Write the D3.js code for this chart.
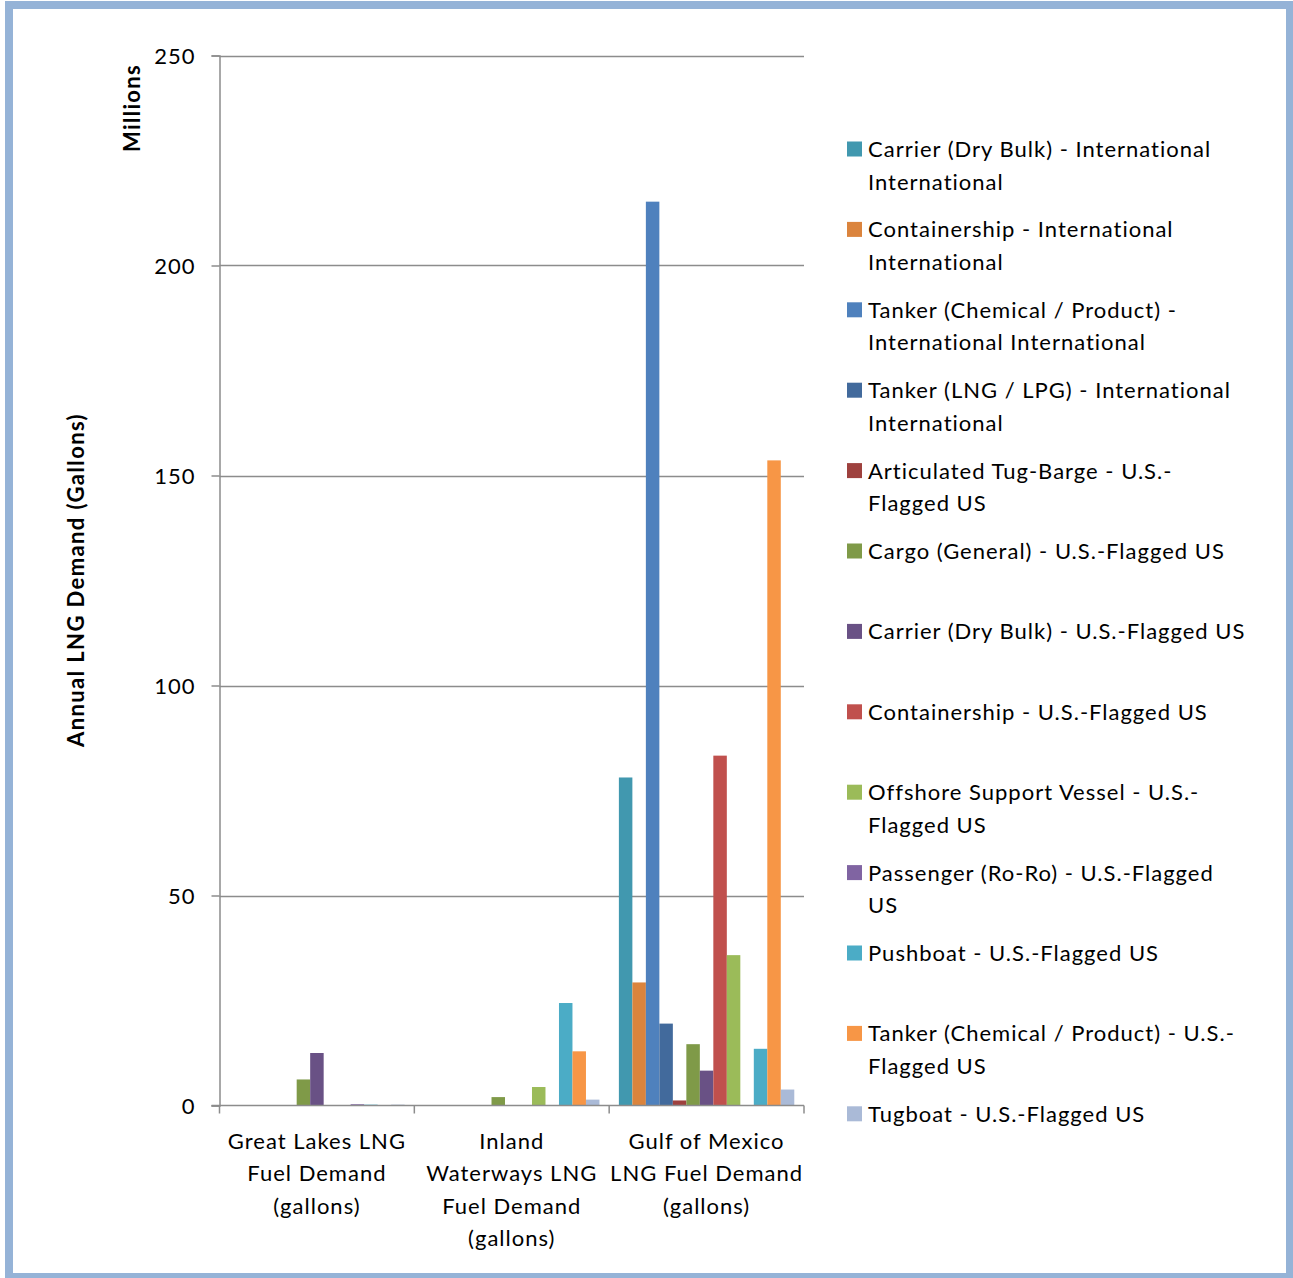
<!DOCTYPE html>
<html>
<head>
<meta charset="utf-8">
<script src="https://cdn.jsdelivr.net/npm/d3@7"></script>
<style>
  body { margin: 0; background: #fff; }
  svg { display: block; font-family: Lato, "Open Sans", sans-serif; letter-spacing: 1px; }
</style>
</head>
<body>
<div id="chart"></div>
<script>
// Chart data (values in millions of gallons)
const categories = [
    ['Great Lakes LNG', 'Fuel Demand', '(gallons)'],
    ['Inland', 'Waterways LNG', 'Fuel Demand', '(gallons)'],
    ['Gulf of Mexico', 'LNG Fuel Demand', '(gallons)']
];

const seriesNames = [
    ['Carrier (Dry Bulk) - International', 'International'],
    ['Containership - International', 'International'],
    ['Tanker (Chemical / Product) -', 'International International'],
    ['Tanker (LNG / LPG) - International', 'International'],
    ['Articulated Tug-Barge - U.S.-', 'Flagged US'],
    ['Cargo (General) - U.S.-Flagged US'],
    ['Carrier (Dry Bulk) - U.S.-Flagged US'],
    ['Containership - U.S.-Flagged US'],
    ['Offshore Support Vessel - U.S.-', 'Flagged US'],
    ['Passenger (Ro-Ro) - U.S.-Flagged', 'US'],
    ['Pushboat - U.S.-Flagged US'],
    ['Tanker (Chemical / Product) - U.S.-', 'Flagged US'],
    ['Tugboat - U.S.-Flagged US']
];

const seriesColors = ['#4198AF', '#DB843D', '#4F81BD', '#426A9C', '#9E413E', '#7F9A48',
    '#695185', '#C0504D', '#9BBB59', '#8064A2', '#4BACC6', '#F79646', '#AABAD7'];

// one array per category, in series order
const greatLakes = [0, 0, 0, 0, 0, 6.2, 12.5, 0, 0, 0.3, 0.2, 0, 0.2];
const inland = [0, 0, 0, 0, 0, 2.0, 0, 0, 4.4, 0, 24.4, 12.9, 1.4];
const gulf = [78.1, 29.3, 215.2, 19.5, 1.2, 14.6, 8.3, 83.3, 35.8, 0, 13.5, 153.6, 3.8];
const values = [greatLakes, inland, gulf];

const yTicks = [0, 50, 100, 150, 200, 250];

const W = 1293, H = 1278;
const plot = {left: 219.5, right: 804, top: 55.5, bottom: 1105.5};

const svg = d3.select('#chart').append('svg')
    .attr('width', W)
    .attr('height', H);

// outer frame
svg.append('rect')
    .attr('x', 9).attr('y', 5)
    .attr('width', 1281).attr('height', 1272)
    .attr('fill', '#fff')
    .attr('stroke', '#95B3D7')
    .attr('stroke-width', 8);

const x0 = d3.scaleBand()
    .domain(d3.range(categories.length))
    .range([plot.left, plot.right]);

const x1 = d3.scaleBand()
    .domain(d3.range(seriesNames.length))
    .range([0, x0.bandwidth()])
    .paddingOuter(0.72);

const y = d3.scaleLinear()
    .domain([0, 250])
    .range([plot.bottom, plot.top]);

// gridlines
svg.append('g')
    .selectAll('line')
    .data(yTicks.filter(d => d > 0))
    .enter()
    .append('line')
    .attr('x1', plot.left).attr('x2', plot.right)
    .attr('y1', d => Math.round(y(d)) + 0.5).attr('y2', d => Math.round(y(d)) + 0.5)
    .attr('stroke', '#8c8c8c')
    .attr('stroke-width', 1.5);

// bars
const groups = svg.append('g')
    .selectAll('g')
    .data(values)
    .enter()
    .append('g')
    .attr('transform', (d, i) => `translate(${x0(i)},0)`);

groups.selectAll('rect')
    .data(d => d.map((v, i) => ({v, i})))
    .enter()
    .append('rect')
    .attr('x', d => x1(d.i))
    .attr('width', x1.bandwidth())
    .attr('y', d => y(d.v))
    .attr('height', d => y(0) - y(d.v))
    .attr('fill', d => seriesColors[d.i]);

// y axis
const yAxis = svg.append('g')
    .attr('transform', `translate(${plot.left},0)`)
    .call(d3.axisLeft(y).tickValues(yTicks).tickSize(8).tickPadding(16));
yAxis.select('.domain').attr('stroke', '#8c8c8c').attr('stroke-width', 1.5);
yAxis.selectAll('.tick line').attr('stroke', '#8c8c8c').attr('stroke-width', 1.5);
yAxis.selectAll('.tick text')
    .style('font-size', '22px')
    .style('font-family', 'Lato, "Open Sans", sans-serif')
    .style('letter-spacing', '1px')
    .attr('fill', '#000')
    .attr('dy', '0.35em');

// x axis
const xAxis = svg.append('g')
    .attr('transform', `translate(0,${plot.bottom})`);
xAxis.append('line')
    .attr('x1', plot.left - 8).attr('x2', plot.right)
    .attr('stroke', '#8c8c8c').attr('stroke-width', 1.5);
xAxis.selectAll('.xtick')
    .data(d3.range(categories.length + 1))
    .enter()
    .append('line')
    .attr('x1', i => i < categories.length ? x0(i) : plot.right)
    .attr('x2', i => i < categories.length ? x0(i) : plot.right)
    .attr('y1', 0).attr('y2', 8)
    .attr('stroke', '#8c8c8c').attr('stroke-width', 1.5);

xAxis.selectAll('.xlabel')
    .data(categories)
    .enter()
    .append('text')
    .attr('text-anchor', 'middle')
    .attr('x', (d, i) => x0(i) + x0.bandwidth() / 2)
    .style('font-size', '22px')
    .selectAll('tspan')
    .data(d => d)
    .enter()
    .append('tspan')
    .attr('x', function() { return d3.select(this.parentNode).attr('x'); })
    .attr('y', (d, i) => 43 + i * 32.5)
    .text(d => d);

// axis titles
svg.append('text')
    .attr('transform', 'translate(84,580) rotate(-90)')
    .attr('text-anchor', 'middle')
    .style('font-size', '22px')
    .style('font-weight', 'bold')
    .style('letter-spacing', '1.4px')
    .text('Annual LNG Demand (Gallons)');

svg.append('text')
    .attr('transform', 'translate(140,108) rotate(-90)')
    .attr('text-anchor', 'middle')
    .style('font-size', '22px')
    .style('font-weight', 'bold')
    .style('letter-spacing', '1.3px')
    .text('Millions');

// legend
const legend = svg.append('g')
    .selectAll('g')
    .data(seriesNames)
    .enter()
    .append('g')
    .attr('transform', (d, i) => `translate(847,${149 + i * 80.4})`);

legend.append('rect')
    .attr('x', 0).attr('y', -7.5)
    .attr('width', 15).attr('height', 15)
    .attr('fill', (d, i) => seriesColors[i]);

legend.append('text')
    .style('font-size', '22px')
    .selectAll('tspan')
    .data(d => d)
    .enter()
    .append('tspan')
    .attr('x', 21)
    .attr('y', (d, i) => 8 + i * 32.5)
    .text(d => d);
</script>
</body>
</html>
